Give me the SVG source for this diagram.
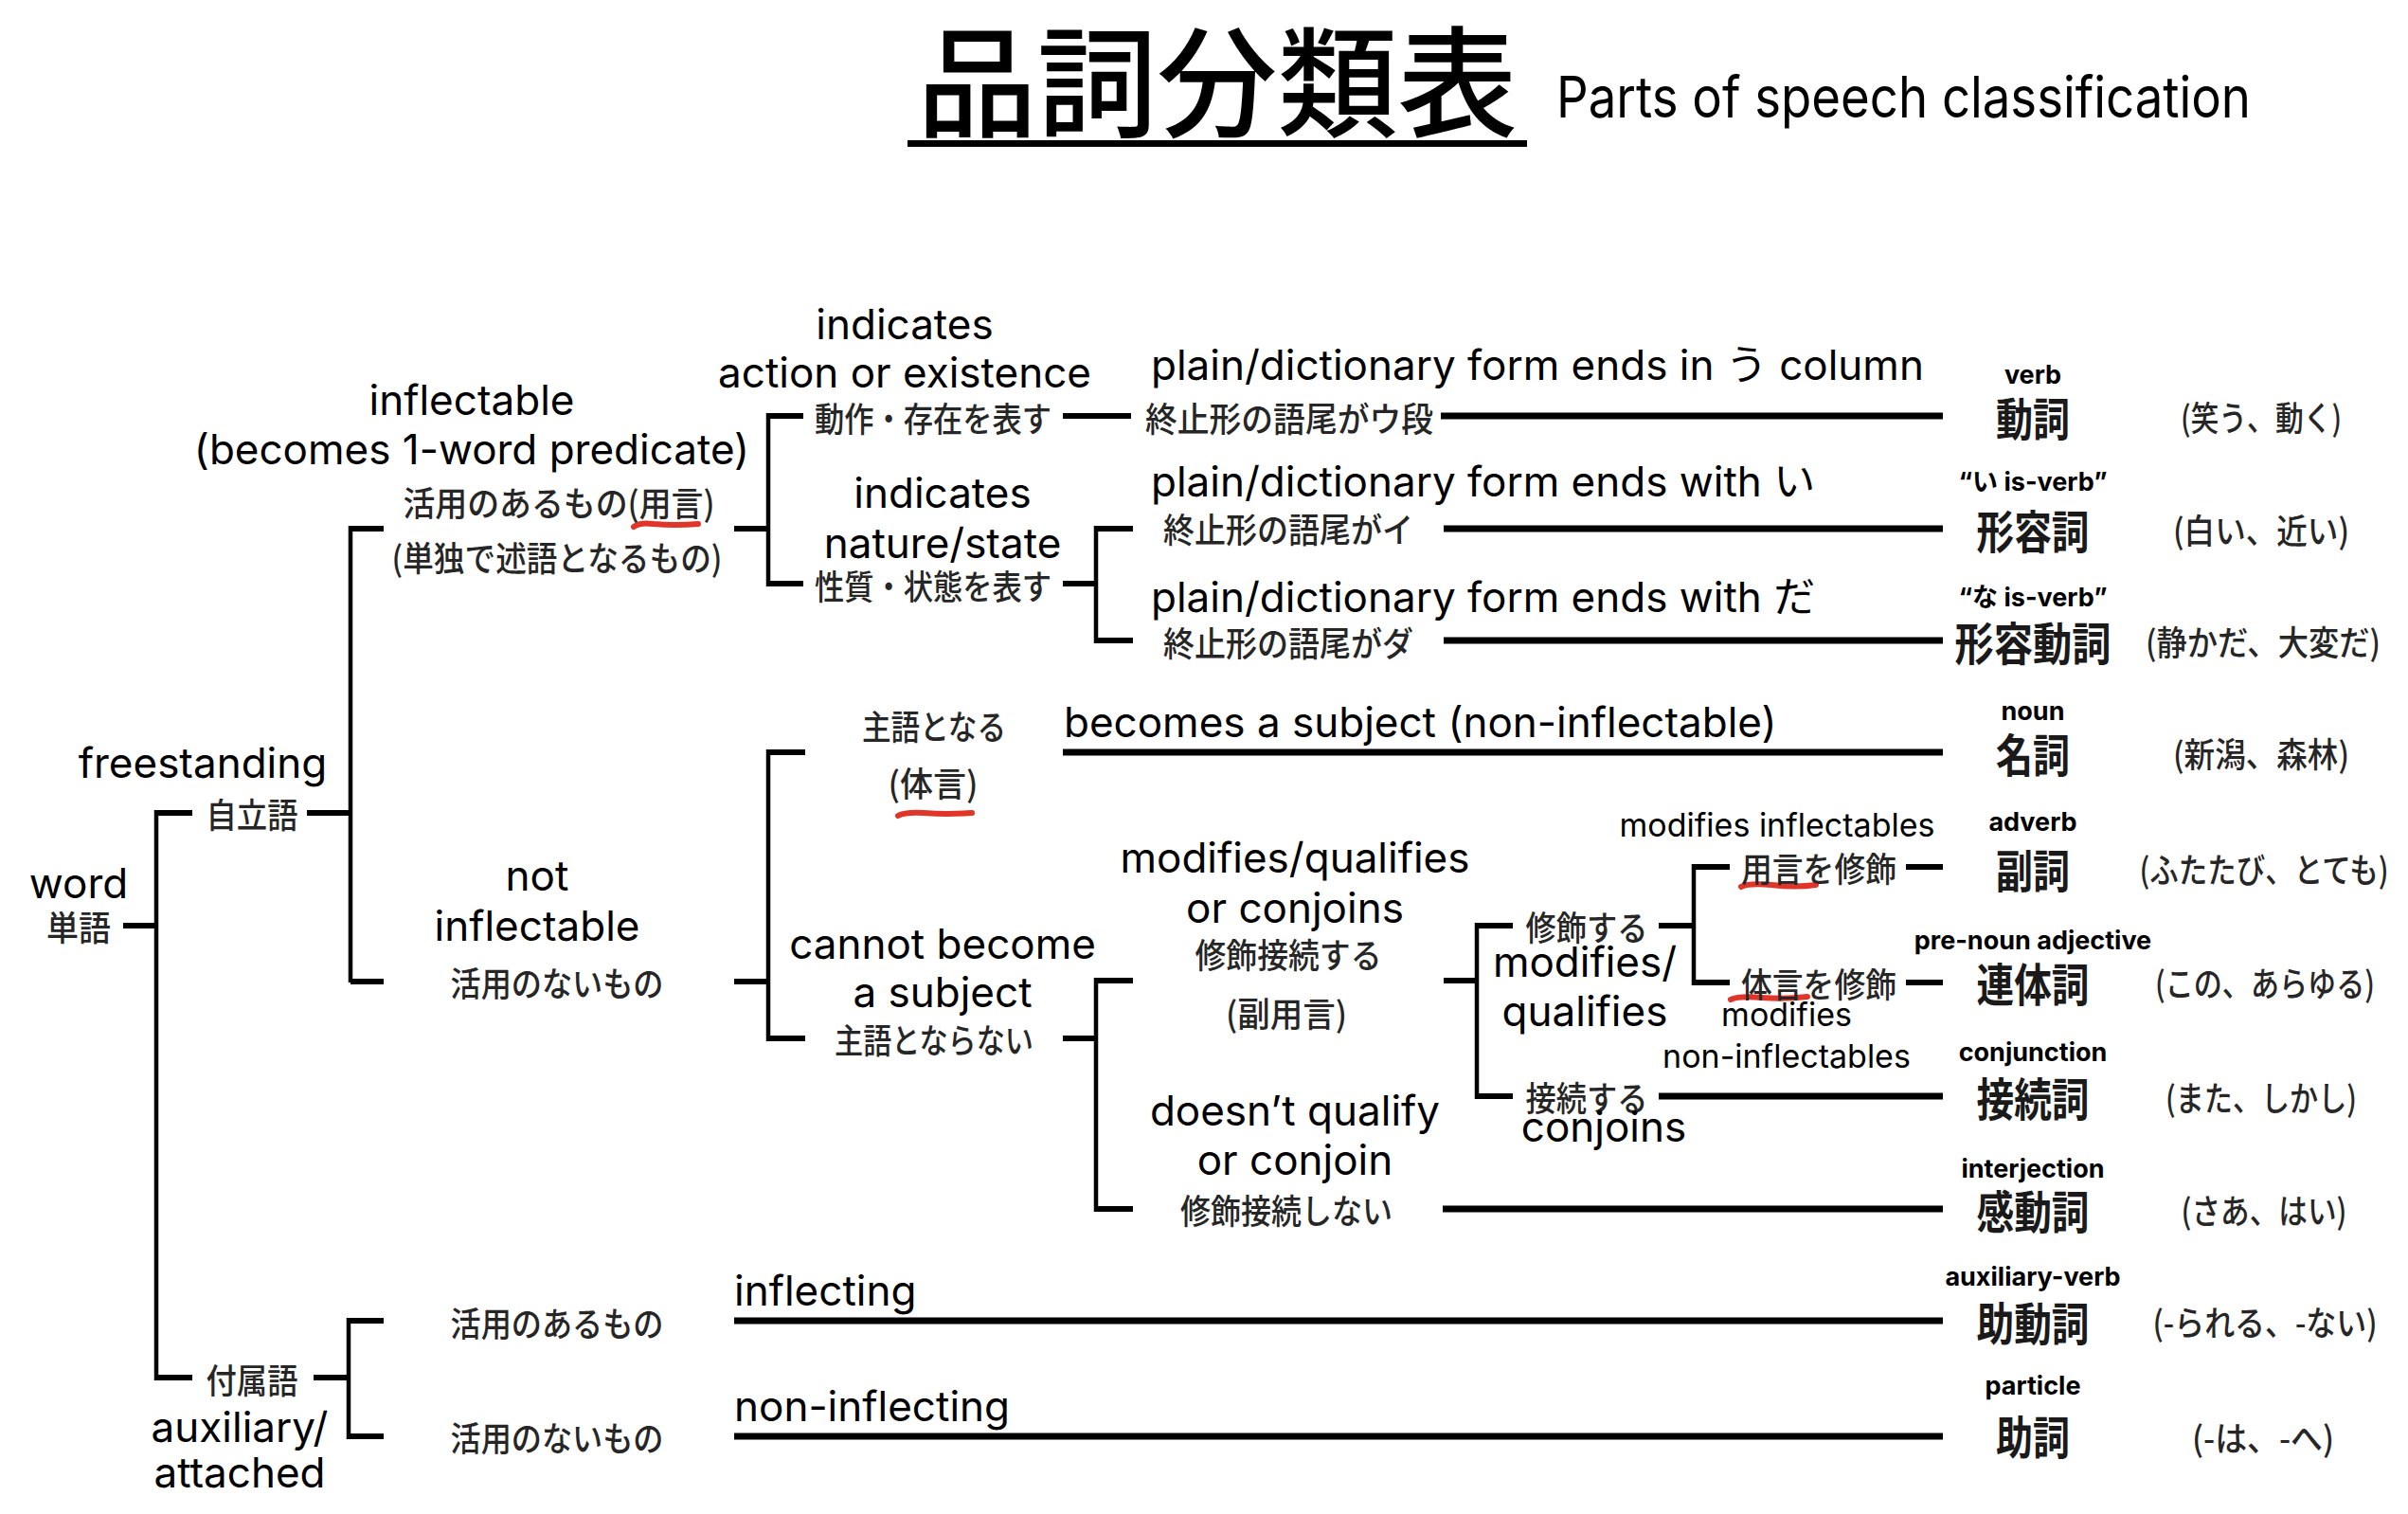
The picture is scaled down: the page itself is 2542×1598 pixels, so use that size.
<svg xmlns="http://www.w3.org/2000/svg" width="2542" height="1598" viewBox="0 0 2542 1598">
<style>
.en{font-family:Inter,"Noto Sans","Noto Sans CJK JP",sans-serif;font-size:44px;fill:#000}
.m{text-anchor:middle}
.sm{font-size:34px}
.big{font-size:60px}
.jp{font-family:"Noto Sans CJK JP","Noto Sans CJK SC",sans-serif;font-size:36px;fill:#262626;font-weight:500;dominant-baseline:central;text-anchor:middle}
.pos{font-size:48px;fill:#1a1a1a;font-weight:700}
.lbl{font-family:Inter,"Noto Sans","Noto Sans CJK JP",sans-serif;font-weight:700;font-size:27px;text-anchor:middle;fill:#000}
.v{stroke:#000;stroke-width:4.5;fill:none}
.h{stroke:#000;stroke-width:6;fill:none}
.hl{stroke:#000;stroke-width:7;fill:none}
.red{stroke:#e0362a;stroke-width:6;stroke-linecap:round;fill:none}
</style>
<rect width="2542" height="1598" fill="#fff"/>

<g id="title">
<text x="968" y="135" font-family="'Noto Sans CJK JP',sans-serif" font-size="127" font-weight="500" textLength="634" lengthAdjust="spacingAndGlyphs">品詞分類表</text>
<rect x="958" y="148" width="654" height="7" fill="#000"/>
<text class="en big" x="1643" y="124" textLength="733" lengthAdjust="spacingAndGlyphs">Parts of speech classification</text>
</g>

<g id="connectors">
<path class="v" d="M165,855V1457 M370,555V1037 M811,436V619 M1157,555V679 M811,791V1099 M1157,1032V1279 M1559,974V1160 M1788,912V1040 M368,1391V1519"/>
<path class="h" d="M130,977H165 M165,858H203 M324,858H370 M165,1454H203 M331,1454H370 M370,558H405 M370,1036H405 M775,558H811 M811,439H848 M811,616H848 M1122,439H1194 M1122,616H1157 M1157,558H1196 M1157,676H1196 M811,794H850 M811,1096H850 M775,1036H811 M1122,1096H1157 M1157,1035H1196 M1157,1276H1196 M1524,1035H1559 M1559,977H1597 M1559,1157H1597 M1751,977H1788 M1788,915H1826 M1788,1037H1826 M2012,915H2051 M2012,1037H2051 M368,1394H405 M368,1516H405"/>
<path class="hl" d="M1521,439H2051 M1524,558H2051 M1524,676H2051 M1122,794H2051 M1523,1276H2051 M1751,1157H2051 M775,1394H2051 M775,1516H2051"/>
<path class="red" d="M669,556Q675,551 690,553Q712,555 737,553"/>
<path class="red" d="M948,861Q955,857 975,858Q1000,860 1026,858"/>
<path class="red" d="M1838,936Q1846,932 1870,934Q1895,937 1917,934"/>
<path class="red" d="M1827,1055Q1836,1051 1860,1053Q1885,1055 1908,1052"/>
</g>

<g id="n-word"><text class="en m" x="83" y="948">word</text><text class="jp" x="83" y="977" textLength="68" lengthAdjust="spacingAndGlyphs">単語</text></g>
<g id="n-free"><text class="en m" x="214" y="821">freestanding</text><text class="jp" x="266" y="858" textLength="97" lengthAdjust="spacingAndGlyphs">自立語</text></g>
<g id="n-aux"><text class="jp" x="266" y="1455" textLength="97" lengthAdjust="spacingAndGlyphs">付属語</text><text class="en m" x="253" y="1522">auxiliary/</text><text class="en m" x="253" y="1570">attached</text></g>

<g id="n-infl"><text class="en m" x="498" y="438">inflectable</text><text class="en m" x="498" y="490">(becomes 1-word predicate)</text>
<text class="jp" x="590" y="529" textLength="329" lengthAdjust="spacingAndGlyphs">活用のあるもの(用言)</text>
<text class="jp" x="588" y="587" textLength="349" lengthAdjust="spacingAndGlyphs">(単独で述語となるもの)</text></g>
<g id="n-noninfl"><text class="en m" x="567" y="940">not</text><text class="en m" x="567" y="993">inflectable</text><text class="jp" x="588" y="1036" textLength="225" lengthAdjust="spacingAndGlyphs">活用のないもの</text></g>
<g id="n-aux-infl"><text class="jp" x="588" y="1395" textLength="225" lengthAdjust="spacingAndGlyphs">活用のあるもの</text></g>
<g id="n-aux-noninfl"><text class="jp" x="588" y="1516" textLength="225" lengthAdjust="spacingAndGlyphs">活用のないもの</text></g>

<g id="n-action"><text class="en m" x="955" y="358">indicates</text><text class="en m" x="955" y="409">action or existence</text><text class="jp" x="985" y="440" textLength="250" lengthAdjust="spacingAndGlyphs">動作・存在を表す</text></g>
<g id="n-nature"><text class="en m" x="995" y="536">indicates</text><text class="en m" x="995" y="589">nature/state</text><text class="jp" x="985" y="617" textLength="250" lengthAdjust="spacingAndGlyphs">性質・状態を表す</text></g>

<g id="n-u"><text class="en" x="1215" y="401">plain/dictionary form ends in う column</text><text class="jp" x="1361" y="440" textLength="304" lengthAdjust="spacingAndGlyphs">終止形の語尾がウ段</text></g>
<g id="n-i"><text class="en" x="1215" y="524">plain/dictionary form ends with い</text><text class="jp" x="1360" y="557" textLength="264" lengthAdjust="spacingAndGlyphs">終止形の語尾がイ</text></g>
<g id="n-da"><text class="en" x="1215" y="646">plain/dictionary form ends with だ</text><text class="jp" x="1360" y="677" textLength="264" lengthAdjust="spacingAndGlyphs">終止形の語尾がダ</text></g>

<g id="n-subj"><text class="jp" x="986" y="765" textLength="152" lengthAdjust="spacingAndGlyphs">主語となる</text><text class="jp" x="985" y="825" textLength="95" lengthAdjust="spacingAndGlyphs">(体言)</text><text class="en" x="1123" y="778">becomes a subject (non-inflectable)</text></g>
<g id="n-nosubj"><text class="en m" x="995" y="1012">cannot become</text><text class="en m" x="995" y="1063">a subject</text><text class="jp" x="986" y="1096" textLength="210" lengthAdjust="spacingAndGlyphs">主語とならない</text></g>

<g id="n-modconj"><text class="en m" x="1367" y="921">modifies/qualifies</text><text class="en m" x="1367" y="974">or conjoins</text><text class="jp" x="1360" y="1006" textLength="197" lengthAdjust="spacingAndGlyphs">修飾接続する</text><text class="jp" x="1358" y="1068" textLength="128" lengthAdjust="spacingAndGlyphs">(副用言)</text></g>
<g id="n-nomodconj"><text class="en m" x="1367" y="1188">doesn’t qualify</text><text class="en m" x="1367" y="1240">or conjoin</text><text class="jp" x="1358" y="1276" textLength="224" lengthAdjust="spacingAndGlyphs">修飾接続しない</text></g>

<g id="n-mod"><text class="jp" x="1675" y="977" textLength="129" lengthAdjust="spacingAndGlyphs">修飾する</text><text class="en m" x="1673" y="1031">modifies/</text><text class="en m" x="1673" y="1083">qualifies</text></g>
<g id="n-conj"><text class="jp" x="1675" y="1157" textLength="129" lengthAdjust="spacingAndGlyphs">接続する</text><text class="en m" x="1693" y="1205">conjoins</text></g>
<g id="n-modinfl"><text class="en m sm" x="1876" y="883">modifies inflectables</text><text class="jp" x="1920" y="915" textLength="164" lengthAdjust="spacingAndGlyphs">用言を修飾</text></g>
<g id="n-modnoninfl"><text class="jp" x="1920" y="1037" textLength="164" lengthAdjust="spacingAndGlyphs">体言を修飾</text><text class="en m sm" x="1886" y="1083">modifies</text><text class="en m sm" x="1886" y="1127">non-inflectables</text></g>

<g id="n-inflecting"><text class="en" x="775" y="1378">inflecting</text></g>
<g id="n-noninflecting"><text class="en" x="775" y="1500">non-inflecting</text></g>

<g id="pos-verb"><text class="lbl" x="2146" y="405">verb</text><text class="jp pos" x="2146" y="439" textLength="78" lengthAdjust="spacingAndGlyphs">動詞</text><text class="jp" x="2387" y="439" textLength="170" lengthAdjust="spacingAndGlyphs">(笑う、動く)</text></g>
<g id="pos-adj"><text class="lbl" x="2146" y="518">“い is-verb”</text><text class="jp pos" x="2146" y="558" textLength="119" lengthAdjust="spacingAndGlyphs">形容詞</text><text class="jp" x="2387" y="558" textLength="186" lengthAdjust="spacingAndGlyphs">(白い、近い)</text></g>
<g id="pos-adjv"><text class="lbl" x="2146" y="640">“な is-verb”</text><text class="jp pos" x="2146" y="676" textLength="165" lengthAdjust="spacingAndGlyphs">形容動詞</text><text class="jp" x="2389" y="676" textLength="248" lengthAdjust="spacingAndGlyphs">(静かだ、大変だ)</text></g>
<g id="pos-noun"><text class="lbl" x="2146" y="760">noun</text><text class="jp pos" x="2146" y="794" textLength="78" lengthAdjust="spacingAndGlyphs">名詞</text><text class="jp" x="2387" y="794" textLength="186" lengthAdjust="spacingAndGlyphs">(新潟、森林)</text></g>
<g id="pos-adverb"><text class="lbl" x="2146" y="877">adverb</text><text class="jp pos" x="2146" y="916" textLength="78" lengthAdjust="spacingAndGlyphs">副詞</text><text class="jp" x="2390" y="916" textLength="263" lengthAdjust="spacingAndGlyphs">(ふたたび、とても)</text></g>
<g id="pos-prenoun"><text class="lbl" x="2146" y="1002">pre-noun adjective</text><text class="jp pos" x="2146" y="1036" textLength="119" lengthAdjust="spacingAndGlyphs">連体詞</text><text class="jp" x="2391" y="1036" textLength="232" lengthAdjust="spacingAndGlyphs">(この、あらゆる)</text></g>
<g id="pos-conj"><text class="lbl" x="2146" y="1120">conjunction</text><text class="jp pos" x="2146" y="1157" textLength="119" lengthAdjust="spacingAndGlyphs">接続詞</text><text class="jp" x="2387" y="1157" textLength="202" lengthAdjust="spacingAndGlyphs">(また、しかし)</text></g>
<g id="pos-interj"><text class="lbl" x="2146" y="1243">interjection</text><text class="jp pos" x="2146" y="1276" textLength="119" lengthAdjust="spacingAndGlyphs">感動詞</text><text class="jp" x="2390" y="1276" textLength="175" lengthAdjust="spacingAndGlyphs">(さあ、はい)</text></g>
<g id="pos-auxv"><text class="lbl" x="2146" y="1357">auxiliary-verb</text><text class="jp pos" x="2146" y="1394" textLength="119" lengthAdjust="spacingAndGlyphs">助動詞</text><text class="jp" x="2391" y="1394" textLength="237" lengthAdjust="spacingAndGlyphs">(-られる、-ない)</text></g>
<g id="pos-particle"><text class="lbl" x="2146" y="1472">particle</text><text class="jp pos" x="2146" y="1514" textLength="78" lengthAdjust="spacingAndGlyphs">助詞</text><text class="jp" x="2389" y="1516" textLength="150" lengthAdjust="spacingAndGlyphs">(-は、-へ)</text></g>
</svg>
